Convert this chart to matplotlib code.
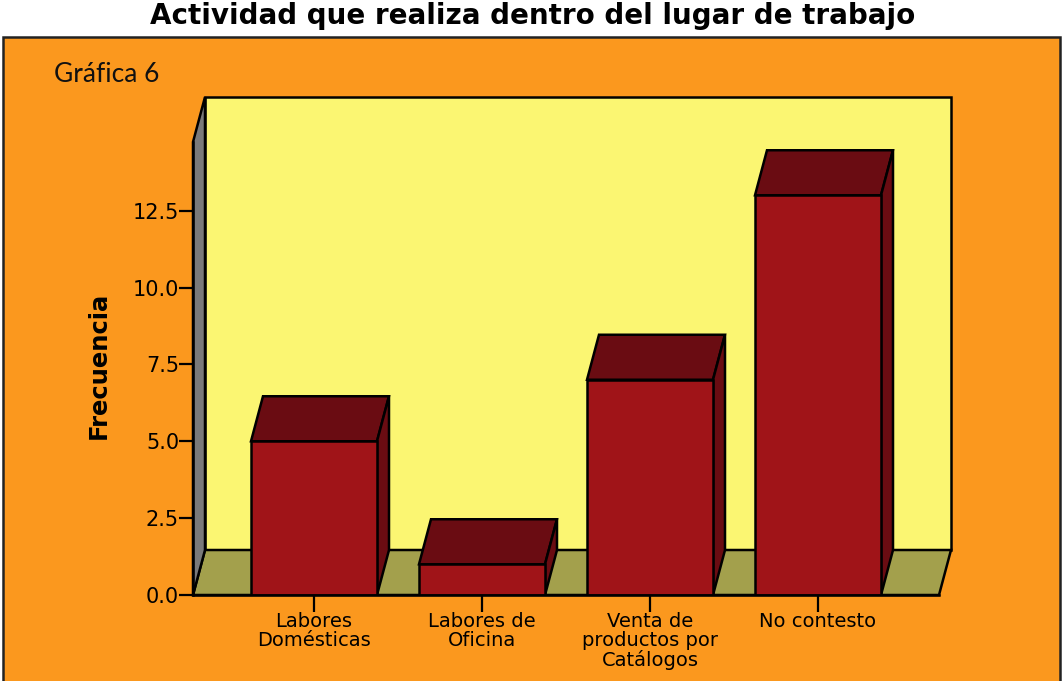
import matplotlib
matplotlib.use("Agg")
import matplotlib.pyplot as plt
from matplotlib.patches import Polygon, Rectangle

# Data
categorias = ["Labores\nDomésticas", "Labores de\nOficina", "Venta de\nproductos por\nCatálogos", "No contesto"]
frecuencias = [5, 1, 7, 13]
yticks = [0.0, 2.5, 5.0, 7.5, 10.0, 12.5]

W, H = 1064, 681
NARANJA = "#FB981E"
AMARILLO = "#FBF672"
PISO = "#A3A04C"
PARED = "#7A7A7A"
FRENTE = "#A01418"
OSCURO = "#6A0C12"

fig = plt.figure(figsize=(W / 100, H / 100), dpi=100, facecolor="white")
plt.rcParams["font.family"] = ["DejaVu Sans"]

# marco naranja detras del grafico
fig.patches.append(Rectangle((3 / W, -0.01), (1060 - 3) / W, 1.01 - 37 / H, transform=fig.transFigure,
                             facecolor=NARANJA, edgecolor="#222222", linewidth=1.8, zorder=-1))

fig.text(533 / W, 1 - 24 / H, "Actividad que realiza dentro del lugar de trabajo",
         ha="center", va="baseline", fontsize=20, fontweight="bold")
fig.text(54 / W, 1 - 75 / H, "Gráfica 6", ha="left", va="center", fontsize=19, family="Lato", color="#111111")

# ejes: x=193..939 px, y=595..142 px
px_x = 168.0
px_y = 30.75
ax = fig.add_axes([193 / W, 1 - 595 / H, (939 - 193) / W, (595 - 142) / H])
ax.patch.set_visible(False)
ax.set_xlim((193 - 314) / px_x, (939 - 314) / px_x)
ax.set_ylim(0, (595 - 142) / px_y)

dx = 12 / px_x
dy = 45 / px_y
x0, x1 = ax.get_xlim()
y1 = ax.get_ylim()[1]
LW = 1.8

# pared del fondo, piso y pared izquierda
ax.add_patch(Polygon([(x0 + dx, dy), (x1 + dx, dy), (x1 + dx, y1 + dy), (x0 + dx, y1 + dy)],
                     facecolor=AMARILLO, edgecolor="black", lw=LW, clip_on=False, zorder=1))
ax.add_patch(Polygon([(x0, 0), (x1, 0), (x1 + dx, dy), (x0 + dx, dy)],
                     facecolor=PISO, edgecolor="black", lw=LW, clip_on=False, zorder=1.5))
ax.add_patch(Polygon([(x0, 0), (x0 + dx, dy), (x0 + dx, y1 + dy), (x0, y1)],
                     facecolor=PARED, edgecolor="black", lw=LW, clip_on=False, zorder=1.5))

# barras 3D
ancho = 126 / px_x
pos = list(range(len(frecuencias)))
ax.bar(pos, frecuencias, width=ancho, color=FRENTE, edgecolor="black", linewidth=LW, zorder=3)
for p, v in zip(pos, frecuencias):
    l, r = p - ancho / 2, p + ancho / 2
    ax.add_patch(Polygon([(l, v), (r, v), (r + dx, v + dy), (l + dx, v + dy)],
                         facecolor=OSCURO, edgecolor="black", lw=LW, clip_on=False, zorder=2.5))
    ax.add_patch(Polygon([(r, 0), (r + dx, dy), (r + dx, v + dy), (r, v)],
                         facecolor=OSCURO, edgecolor="black", lw=LW, clip_on=False, zorder=2.5))

for s in ["top", "right"]:
    ax.spines[s].set_visible(False)
for s in ["left", "bottom"]:
    ax.spines[s].set_linewidth(LW)
    ax.spines[s].set_zorder(4)

ax.set_yticks(yticks)
ax.set_yticklabels([f"{t:.1f}" for t in yticks], fontsize=15)
ax.set_xticks(pos)
ax.set_xticklabels(categorias, fontsize=14, linespacing=1.0)
ax.tick_params(axis="y", length=10, width=1.6, pad=0)
ax.tick_params(axis="x", length=12, width=1.6, pad=0)
ax.set_ylabel("Frecuencia", fontsize=17.5, fontweight="bold")
ax.yaxis.set_label_coords((111 - 193) / (939 - 193), (595 - 365) / (595 - 142))

fig.savefig("out.png", dpi=100, facecolor="white")
